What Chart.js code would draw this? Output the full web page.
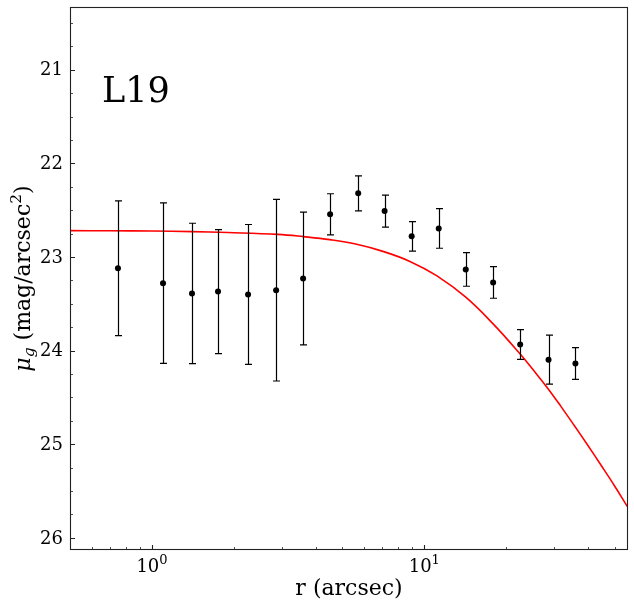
<!DOCTYPE html>
<html>
<head>
<meta charset="utf-8">
<script src="https://cdn.jsdelivr.net/npm/chart.js@4.4.0/dist/chart.umd.min.js"></script>
<style>
  html, body { margin: 0; padding: 0; background: #fff; }
  canvas { display: block; }
</style>
</head>
<body>
<canvas id="profile" width="634" height="608"></canvas>
<script>
/* ---------- data ---------- */

// measured surface brightness points
const radius = [0.750, 1.098, 1.403, 1.748, 2.254, 2.857, 3.59, 4.51, 5.72, 7.15, 8.99, 11.3, 14.2, 17.9, 22.5, 28.6, 35.9];
const mu     = [23.12, 23.28, 23.39, 23.37, 23.40, 23.355, 23.23, 22.545, 22.32, 22.51, 22.78, 22.695, 23.133, 23.272, 23.935, 24.097, 24.138];
const muErr  = [0.72, 0.857, 0.75, 0.663, 0.747, 0.97, 0.71, 0.22, 0.187, 0.171, 0.158, 0.212, 0.18, 0.169, 0.158, 0.262, 0.169];

// fitted profile (red curve)
const modelRadius = [0.5, 0.7, 1.0, 1.4, 1.9, 2.9, 3.6, 4.5, 5.6, 7.1, 8.9, 11.1, 14.2, 17.9, 22.5, 25.2, 28.3, 31.7, 35.5, 39.8, 44.6, 50.0, 56.1];
const modelMu     = [22.719, 22.720, 22.723, 22.729, 22.739, 22.759, 22.783, 22.815, 22.862, 22.943, 23.05, 23.20, 23.43, 23.715, 24.037, 24.211, 24.396, 24.593, 24.798, 25.009, 25.225, 25.446, 25.68];

// axes
const yTicks = [21, 22, 23, 24, 25, 26];
const xTicks = [1, 10];
const xTickExp = ['0', '1'];
const galaxyName = 'L19';

const serif = '"DejaVu Serif", serif';

/*////////////////////////////////
///   Error bars, ticks, text  ///
////////////////////////////////*/

const axesPlugin = {
  id: 'axesPlugin',
  afterDatasetsDraw(chart) {
    const ctx = chart.ctx;
    const a = chart.chartArea;
    const x = chart.scales.x;
    const y = chart.scales.y;

    ctx.save();

    // error bars
    ctx.strokeStyle = '#000';
    ctx.lineWidth = 1.2;
    for (let i = 0; i < radius.length; i++) {
      let px = Math.round(x.getPixelForValue(radius[i])) + 0.5;
      let top = y.getPixelForValue(mu[i] - muErr[i]);
      let bot = y.getPixelForValue(mu[i] + muErr[i]);
      ctx.beginPath();
      ctx.moveTo(px, top);
      ctx.lineTo(px, bot);
      ctx.moveTo(px - 3.5, top);
      ctx.lineTo(px + 3.5, top);
      ctx.moveTo(px - 3.5, bot);
      ctx.lineTo(px + 3.5, bot);
      ctx.stroke();
    }

    // frame
    ctx.strokeStyle = '#222';
    ctx.lineWidth = 1.1;
    ctx.strokeRect(a.left + 0.5, a.top + 0.5, a.right - a.left - 1, a.bottom - a.top - 1);

    // y ticks (pointing in)
    ctx.lineWidth = 1.1;
    ctx.beginPath();
    yTicks.forEach(v => {
      let py = Math.round(y.getPixelForValue(v)) + 0.5;
      ctx.moveTo(a.left, py);
      ctx.lineTo(a.left + 5, py);
    });
    ctx.stroke();
    ctx.lineWidth = 0.8;
    ctx.beginPath();
    for (let v = 20.5; v <= 26.1; v += 0.25) {
      if (Math.abs(v - Math.round(v)) < 0.01) continue;
      let py = Math.round(y.getPixelForValue(v)) + 0.5;
      ctx.moveTo(a.left, py);
      ctx.lineTo(a.left + 3, py);
    }
    ctx.stroke();

    // x ticks (log)
    ctx.lineWidth = 1.1;
    ctx.beginPath();
    xTicks.forEach(v => {
      let px = Math.round(x.getPixelForValue(v)) + 0.5;
      ctx.moveTo(px, a.bottom);
      ctx.lineTo(px, a.bottom - 5);
    });
    ctx.stroke();
    ctx.lineWidth = 0.8;
    ctx.beginPath();
    [0.1, 1, 10].forEach(dec => {
      for (let k = 2; k <= 9; k++) {
        let v = k * dec;
        if (v < x.min || v > x.max) continue;
        let px = Math.round(x.getPixelForValue(v)) + 0.5;
        ctx.moveTo(px, a.bottom);
        ctx.lineTo(px, a.bottom - 3);
      }
    });
    ctx.stroke();

    // tick labels
    ctx.fillStyle = '#000';
    ctx.font = '18px ' + serif;
    ctx.textAlign = 'right';
    ctx.textBaseline = 'middle';
    yTicks.forEach(v => {
      ctx.fillText(String(v), a.left - 7, y.getPixelForValue(v) + 1);
    });

    ctx.textBaseline = 'alphabetic';
    ctx.textAlign = 'left';
    xTicks.forEach((v, i) => {
      ctx.font = '18px ' + serif;
      let base = '10';
      let w1 = ctx.measureText(base).width;
      ctx.font = '13px ' + serif;
      let w2 = ctx.measureText(xTickExp[i]).width;
      let start = x.getPixelForValue(v) - (w1 + w2) / 2;
      ctx.font = '18px ' + serif;
      ctx.fillText(base, start, a.bottom + 22);
      ctx.font = '13px ' + serif;
      ctx.fillText(xTickExp[i], start + w1, a.bottom + 14);
    });

    // x title
    ctx.font = '22px ' + serif;
    ctx.textAlign = 'center';
    ctx.fillText('r (arcsec)', (a.left + a.right) / 2, a.bottom + 45);

    // y title: mu_g (mag/arcsec^2)
    ctx.translate(30, (a.top + a.bottom) / 2);
    ctx.rotate(-Math.PI / 2);
    ctx.textAlign = 'left';
    const parts = [
      { t: 'μ', font: 'italic 22px ', dy: 0 },
      { t: 'g', font: 'italic 15.5px ', dy: 4 },
      { t: ' (mag/arcsec', font: '22px ', dy: 0 },
      { t: '2', font: '15.5px ', dy: -9 },
      { t: ')', font: '22px ', dy: 0 }
    ];
    let total = 0;
    parts.forEach(p => {
      ctx.font = p.font + serif;
      p.w = ctx.measureText(p.t).width;
      total += p.w;
    });
    let cx = -total / 2;
    parts.forEach(p => {
      ctx.font = p.font + serif;
      ctx.fillText(p.t, cx, p.dy);
      cx += p.w;
    });
    ctx.restore();

    // galaxy name
    ctx.save();
    ctx.fillStyle = '#000';
    ctx.font = '35px ' + serif;
    ctx.textAlign = 'left';
    ctx.textBaseline = 'alphabetic';
    ctx.fillText(galaxyName, a.left + 32, a.top + 95);
    ctx.restore();
  }
};

/*////////////////////////////////
///          The chart         ///
////////////////////////////////*/

let profile = document.getElementById('profile').getContext('2d');

let profileChart = new Chart(profile, {
  type: 'scatter',
  data: {
    datasets: [{
      label: 'model',
      data: modelRadius.map((r, i) => ({ x: r, y: modelMu[i] })),
      showLine: true,
      borderColor: '#ff0000',
      borderWidth: 1.6,
      pointRadius: 0,
      tension: 0.4,
      order: 2
    }, {
      label: 'data',
      data: radius.map((r, i) => ({ x: r, y: mu[i] })),
      backgroundColor: '#000',
      borderColor: '#000',
      borderWidth: 0,
      pointRadius: 3,
      order: 1
    }]
  },
  options: {
    responsive: false,
    animation: false,
    devicePixelRatio: 1,
    layout: {
      padding: { left: 70, right: 6, top: 7, bottom: 58 }
    },
    plugins: {
      legend: { display: false },
      tooltip: { enabled: false }
    },
    scales: {
      x: { type: 'logarithmic', min: 0.5, max: 56, display: false },
      y: { type: 'linear', reverse: true, min: 20.33, max: 26.13, display: false }
    }
  },
  plugins: [axesPlugin]
});
</script>
</body>
</html>
